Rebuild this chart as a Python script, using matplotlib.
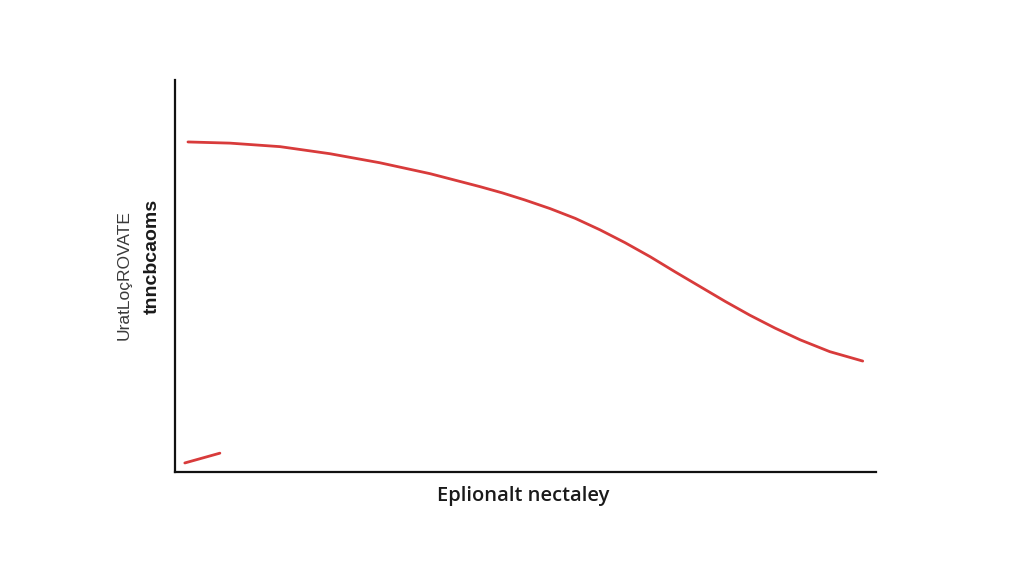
import matplotlib.pyplot as plt

# curve (axis units 0-100)
curve_x = [1.85, 7.85, 15.0, 22.1, 29.2, 36.4, 43.5, 46.7, 49.9, 53.5, 57.1, 60.6, 64.2, 67.8,
           71.3, 74.9, 78.5, 82.0, 85.6, 89.2, 93.4, 98.1]
curve_y = [84.2, 83.9, 83.0, 81.2, 78.9, 76.1, 72.8, 71.2, 69.4, 67.2, 64.7, 61.8, 58.5, 54.9,
           51.1, 47.3, 43.5, 40.0, 36.7, 33.7, 30.7, 28.3]
seg_x = [1.4, 6.4]
seg_y = [2.3, 4.8]

xlabel = 'Eplionalt nectaley'
ylabel_thin = 'UratLoçROVATE'
ylabel_bold = 'tnncbcaoms'

red = '#d83b3b'

fig = plt.figure(figsize=(10.24, 5.85), dpi=100)
ax = fig.add_axes([0.1709, 0.1932, 0.6846, 0.670])

ax.plot(curve_x, curve_y, color=red, lw=2.0, solid_capstyle='round', solid_joinstyle='round')
ax.plot(seg_x, seg_y, color=red, lw=2.0, solid_capstyle='round')

ax.set_xlim(0, 100)
ax.set_ylim(0, 100)
ax.spines['top'].set_visible(False)
ax.spines['right'].set_visible(False)
for s in ('left', 'bottom'):
    ax.spines[s].set_linewidth(1.6)
    ax.spines[s].set_color('#111111')
ax.set_xticks([])
ax.set_yticks([])

fig.text(0.511, 0.152, xlabel, ha='center', va='center', fontsize=14.5,
         family='Open Sans', fontweight='semibold', color='#1a1a1a')
fig.text(0.121, 0.530, ylabel_thin, ha='center', va='center', rotation=90,
         fontsize=12.5, family='Liberation Sans', color='#3a3a3a')
fig.text(0.149, 0.561, ylabel_bold, ha='center', va='center', rotation=90,
         fontsize=14, family='Liberation Sans', color='#1a1a1a', fontweight='bold')

fig.savefig('out.png', dpi=100, facecolor='white')
